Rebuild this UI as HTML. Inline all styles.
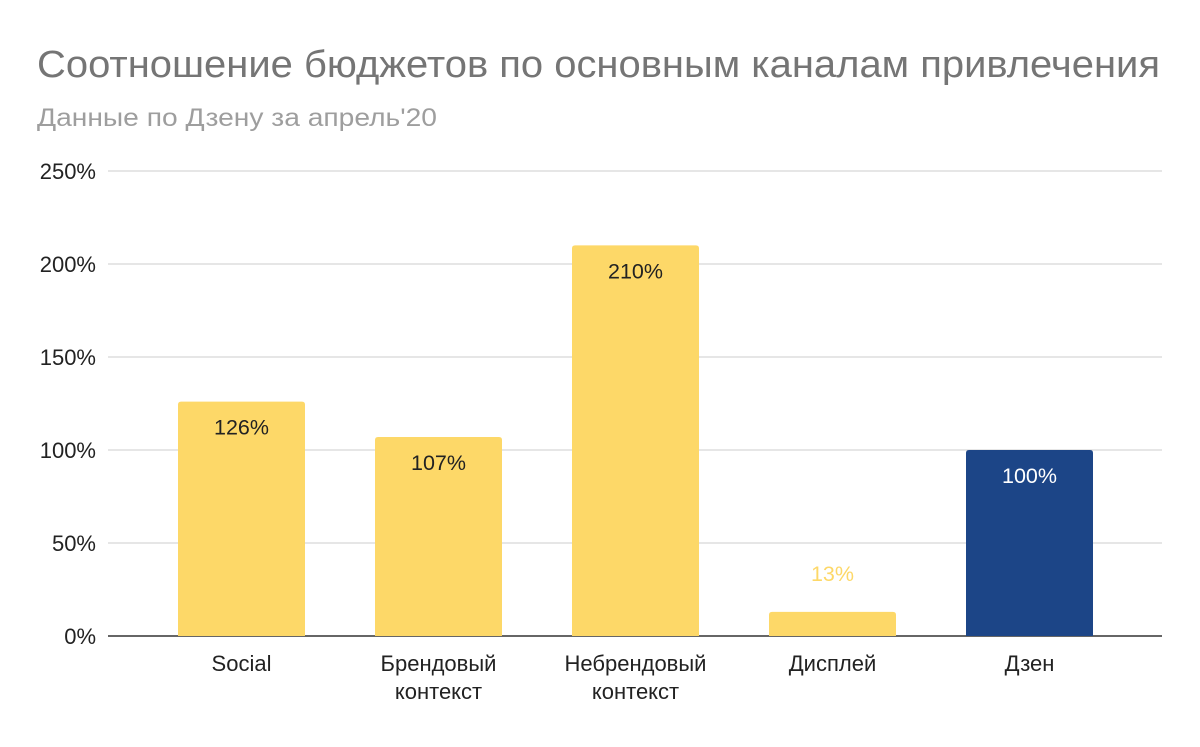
<!DOCTYPE html>
<html><head><meta charset="utf-8"><style>
body{margin:0;background:#fff;font-family:"Liberation Sans",Arial,sans-serif}
svg text{font-family:"Liberation Sans",Arial,sans-serif}
</style></head><body>
<svg id="chart" width="1200" height="742">
<text x="37" y="77" font-size="38" fill="#757575" textLength="1123" lengthAdjust="spacingAndGlyphs">Соотношение бюджетов по основным каналам привлечения</text>
<text x="37" y="126" font-size="25" fill="#9e9e9e" textLength="400" lengthAdjust="spacingAndGlyphs">Данные по Дзену за апрель'20</text>
<g id="grid"></g><g id="bars"></g><g id="labels"></g>
</svg>
<script>
const categories=[["Social"],["Брендовый","контекст"],["Небрендовый","контекст"],["Дисплей"],["Дзен"]];
const values=[126,107,210,13,100];
const colors=["#fdd868","#fdd868","#fdd868","#fdd868","#1c4587"];
const ticks=[0,50,100,150,200,250];
const NS="http://www.w3.org/2000/svg";
const y0=636,yTop=171,vmax=250;
const y=v=>y0-(v/vmax)*(y0-yTop);
const x=i=>241.5+i*197;
const bw=127;
function mk(tag,attrs,parent,txt){const e=document.createElementNS(NS,tag);for(const k in attrs)e.setAttribute(k,attrs[k]);if(txt!==undefined)e.textContent=txt;parent.appendChild(e);return e;}
const g=document.getElementById('grid'),b=document.getElementById('bars'),l=document.getElementById('labels');
ticks.forEach(t=>{
 const ln=mk('line',{x1:108,x2:1162,y1:y(t),y2:y(t),stroke:t===0?'#333':'#ccc','stroke-width':t===0?1.5:1},g);
 
 
 const tx=mk('text',{x:96,y:y(t)+8,'text-anchor':'end','font-size':22,fill:'#222'},g,t+'%');
 
 
});
values.forEach((v,i)=>{
 const top=y(v),h=y0-top,r=Math.min(3,h/2);
 const p=mk('path',{d:`M${x(i)-bw/2},${y0}V${top+r}Q${x(i)-bw/2},${top} ${x(i)-bw/2+r},${top}H${x(i)+bw/2-r}Q${x(i)+bw/2},${top} ${x(i)+bw/2},${top+r}V${y0}Z`,fill:colors[i]},b);
 
 
 const inside=h>50;
 const tx=mk('text',{x:x(i),y:inside?top+33:top-31,'text-anchor':'middle','font-size':21.5,fill:inside?(colors[i]==='#1c4587'?'#fff':'#222'):colors[i]},l,v+'%');
 
 
 categories[i].forEach((s,j)=>{
  const c=mk('text',{x:x(i),y:671+j*28,'text-anchor':'middle','font-size':22,fill:'#222'},l,s);
  
  
 });
});
</script>
</body></html>
